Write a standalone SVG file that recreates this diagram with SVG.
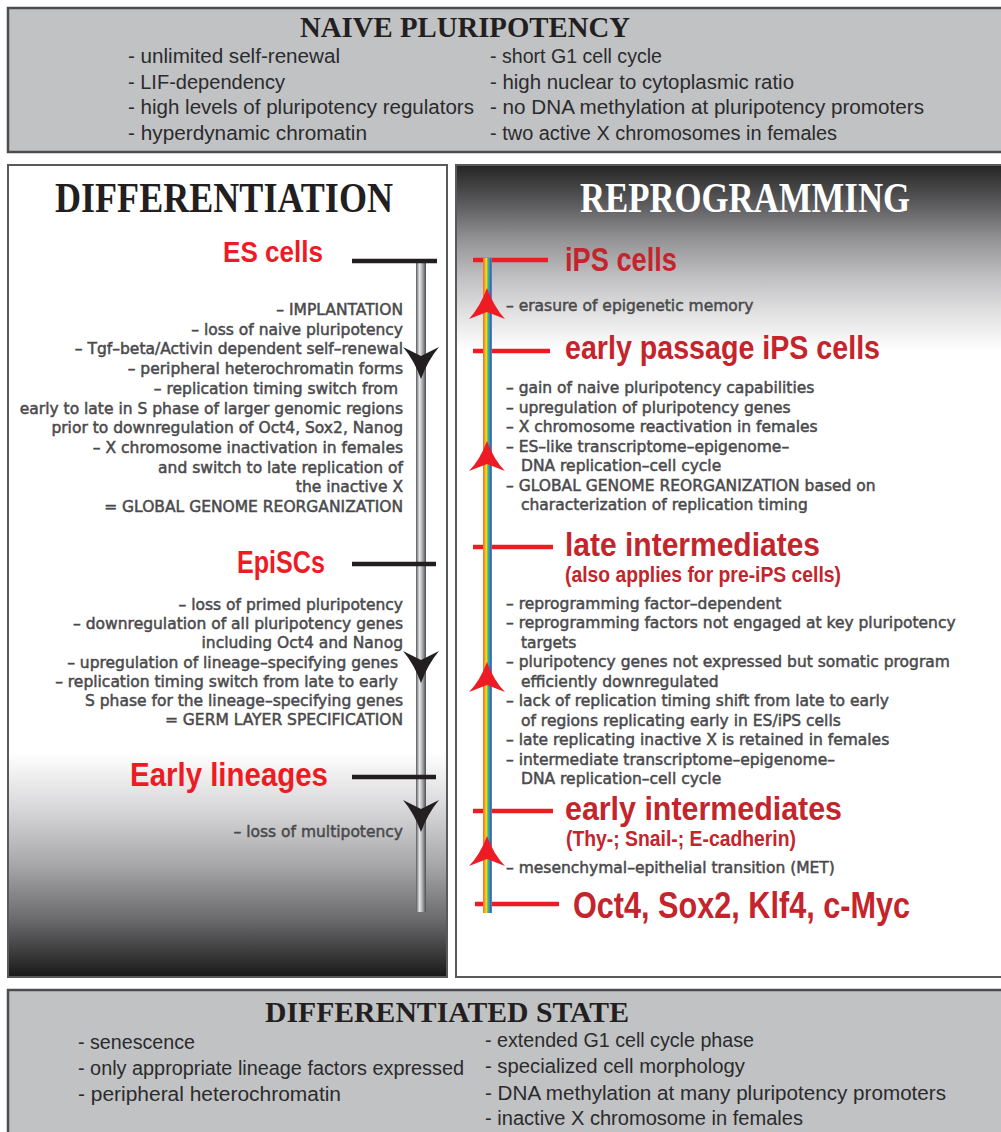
<svg xmlns="http://www.w3.org/2000/svg" width="1001" height="1132" viewBox="0 0 1001 1132">
<defs>
<linearGradient id="gLeft" x1="0" y1="0" x2="0" y2="1">
<stop offset="0" stop-color="#ffffff"/><stop offset="0.25" stop-color="#d8d8da"/><stop offset="0.5" stop-color="#a8a8ab"/><stop offset="0.75" stop-color="#6a6a6d"/><stop offset="1" stop-color="#1a1a1a"/>
</linearGradient>
<linearGradient id="gRight" x1="0" y1="0" x2="0" y2="1">
<stop offset="0" stop-color="#262626"/><stop offset="0.2" stop-color="#5a5a5c"/><stop offset="0.4" stop-color="#949496"/><stop offset="0.6" stop-color="#c0c0c2"/><stop offset="0.8" stop-color="#e2e2e3"/><stop offset="1" stop-color="#ffffff"/>
</linearGradient>
<linearGradient id="gBar" x1="0" y1="0" x2="1" y2="0">
<stop offset="0" stop-color="#58595b"/><stop offset="0.35" stop-color="#e6e7e8"/><stop offset="0.65" stop-color="#a7a9ac"/><stop offset="1" stop-color="#4d4d4f"/>
</linearGradient>
<linearGradient id="gRainbow" x1="0" y1="0" x2="1" y2="0">
<stop offset="0" stop-color="#f26a3a"/><stop offset="0.2" stop-color="#f7a21b"/><stop offset="0.38" stop-color="#f4e01c"/><stop offset="0.55" stop-color="#5cb848"/><stop offset="0.72" stop-color="#1e9ad6"/><stop offset="0.88" stop-color="#2e5fb0"/><stop offset="1" stop-color="#b27bc0"/>
</linearGradient>
</defs>
<style>
.box{fill:#c1c2c4;stroke:#4d4d4f;stroke-width:2.5}
.panel{stroke:#58595b;stroke-width:2}
.stencil{font-family:"Liberation Serif","DejaVu Serif",serif;font-weight:bold}
.cond{font-family:"Liberation Sans",Arial,sans-serif;font-size:20px;fill:#2b2b2d}
.body{font-family:"DejaVu Sans","Liberation Sans",sans-serif;font-size:15.5px;fill:#4a4a4c;stroke:#4a4a4c;stroke-width:0.5}
.lred{font-family:"Liberation Sans",Arial,sans-serif;font-weight:bold;fill:#ed1c24}
.rred{font-family:"Liberation Sans",Arial,sans-serif;font-weight:bold;fill:#c4242b}
.blk{stroke:#231f20;stroke-width:4.5;fill:none}
.red{stroke:#ed1c24;stroke-width:4.5;fill:none}
.bhead{fill:#231f20}
.rhead{fill:#ed1c24}
</style>

<g id="naive-pluripotency">
<rect class="box" x="8" y="8" width="1000" height="144"/>
<text class="stencil" x="300" y="37" font-size="30" textLength="330" lengthAdjust="spacingAndGlyphs" fill="#231f20">NAIVE PLURIPOTENCY</text>
<text class="cond" x="128" y="63" textLength="212" lengthAdjust="spacingAndGlyphs">- unlimited self-renewal</text>
<text class="cond" x="128" y="89" textLength="157" lengthAdjust="spacingAndGlyphs">- LIF-dependency</text>
<text class="cond" x="128" y="114" textLength="346" lengthAdjust="spacingAndGlyphs">- high levels of pluripotency regulators</text>
<text class="cond" x="128" y="140" textLength="239" lengthAdjust="spacingAndGlyphs">- hyperdynamic chromatin</text>
<text class="cond" x="490" y="63" textLength="172" lengthAdjust="spacingAndGlyphs">- short G1 cell cycle</text>
<text class="cond" x="490" y="89" textLength="304" lengthAdjust="spacingAndGlyphs">- high nuclear to cytoplasmic ratio</text>
<text class="cond" x="490" y="114" textLength="434" lengthAdjust="spacingAndGlyphs">- no DNA methylation at pluripotency promoters</text>
<text class="cond" x="490" y="140" textLength="347" lengthAdjust="spacingAndGlyphs">- two active X chromosomes in females</text>
</g>

<g id="differentiation-panel">
<rect class="panel" x="8" y="165" width="439" height="812" fill="#ffffff"/>
<rect x="9" y="752" width="437" height="224" fill="url(#gLeft)"/>
<text class="stencil" x="55" y="212" font-size="42" textLength="338" lengthAdjust="spacingAndGlyphs" fill="#231f20">DIFFERENTIATION</text>
</g>

<g id="reprogramming-panel">
<rect class="panel" x="456" y="165" width="550" height="812" fill="#ffffff"/>
<rect x="457" y="166" width="548" height="185" fill="url(#gRight)"/>
<text class="stencil" x="580" y="212" font-size="42" textLength="330" lengthAdjust="spacingAndGlyphs" fill="#ffffff">REPROGRAMMING</text>
</g>

<g id="connectors">
<rect x="416" y="262" width="10" height="650" fill="url(#gBar)"/>
<line class="blk" x1="352" y1="261" x2="437" y2="261"/>
<line class="blk" x1="352" y1="564" x2="436" y2="564"/>
<line class="blk" x1="352" y1="777" x2="436" y2="777"/>
<path class="bhead" d="M421,379 Q414,360 403,347 L421,356 L439,347 Q428,360 421,379 Z"/>
<path class="bhead" d="M421,683 Q414,664 403,651 L421,660 L439,651 Q428,664 421,683 Z"/>
<path class="bhead" d="M421,832 Q414,813 403,800 L421,809 L439,800 Q428,813 421,832 Z"/>
<line class="red" x1="473" y1="260" x2="548" y2="260"/>
<line class="red" x1="473" y1="351" x2="550" y2="351"/>
<line class="red" x1="473" y1="547" x2="553" y2="547"/>
<line class="red" x1="473" y1="811" x2="553" y2="811"/>
<line class="red" x1="475" y1="904" x2="559" y2="904"/>
<rect x="483" y="258" width="9" height="655" fill="url(#gRainbow)"/>
<path class="rhead" d="M487,288 Q494,307 505,319 L487,312 L469,319 Q480,307 487,288 Z"/>
<path class="rhead" d="M487,441 Q494,460 505,471 L487,464 L469,471 Q480,460 487,441 Z"/>
<path class="rhead" d="M487,662 Q494,681 505,692 L487,685 L469,692 Q480,681 487,662 Z"/>
<path class="rhead" d="M487,836 Q494,855 505,866 L487,859 L469,866 Q480,855 487,836 Z"/>
</g>

<g id="es-cells">
<text class="lred" x="223" y="262" font-size="30" textLength="100" lengthAdjust="spacingAndGlyphs">ES cells</text>
</g>
<g id="es-to-episc-notes" text-anchor="end">
<text class="body" x="403" y="315">– IMPLANTATION</text>
<text class="body" x="403" y="334.7">– loss of naive pluripotency</text>
<text class="body" x="403" y="354.4">– Tgf–beta/Activin dependent self–renewal</text>
<text class="body" x="403" y="374.1">– peripheral heterochromatin forms</text>
<text class="body" x="398" y="393.8">– replication timing switch from</text>
<text class="body" x="403" y="413.5">early to late in S phase of larger genomic regions</text>
<text class="body" x="403" y="433.2">prior to downregulation of Oct4, Sox2, Nanog</text>
<text class="body" x="403" y="452.9">– X chromosome inactivation in females</text>
<text class="body" x="403" y="472.6">and switch to late replication of</text>
<text class="body" x="403" y="492.3">the inactive X</text>
<text class="body" x="403" y="512">= GLOBAL GENOME REORGANIZATION</text>
</g>
<g id="episcs">
<text class="lred" x="237" y="573" font-size="31" textLength="88" lengthAdjust="spacingAndGlyphs">EpiSCs</text>
</g>
<g id="episc-to-lineage-notes" text-anchor="end">
<text class="body" x="403" y="610">– loss of primed pluripotency</text>
<text class="body" x="403" y="629.2">– downregulation of all pluripotency genes</text>
<text class="body" x="403" y="648.3">including Oct4 and Nanog</text>
<text class="body" x="398" y="667.5">– upregulation of lineage–specifying genes</text>
<text class="body" x="398" y="686.7">– replication timing switch from late to early</text>
<text class="body" x="403" y="705.8">S phase for the lineage–specifying genes</text>
<text class="body" x="403" y="725">= GERM LAYER SPECIFICATION</text>
</g>
<g id="early-lineages">
<text class="lred" x="130" y="786" font-size="33" textLength="198" lengthAdjust="spacingAndGlyphs">Early lineages</text>
</g>
<g id="lineage-notes" text-anchor="end">
<text class="body" x="403" y="837">– loss of multipotency</text>
</g>

<g id="ips-cells">
<text class="rred" x="565" y="271" font-size="34" textLength="112" lengthAdjust="spacingAndGlyphs">iPS cells</text>
</g>
<g id="ips-notes">
<text class="body" x="506" y="311">– erasure of epigenetic memory</text>
</g>
<g id="early-passage-ips">
<text class="rred" x="565" y="359" font-size="34" textLength="315" lengthAdjust="spacingAndGlyphs">early passage iPS cells</text>
</g>
<g id="early-passage-notes">
<text class="body" x="506" y="393">– gain of naive pluripotency capabilities</text>
<text class="body" x="506" y="412.5">– upregulation of pluripotency genes</text>
<text class="body" x="506" y="432">– X chromosome reactivation in females</text>
<text class="body" x="506" y="451.5">– ES–like transcriptome–epigenome–</text>
<text class="body" x="521" y="471">DNA replication–cell cycle</text>
<text class="body" x="506" y="490.5">– GLOBAL GENOME REORGANIZATION based on</text>
<text class="body" x="521" y="510">characterization of replication timing</text>
</g>
<g id="late-intermediates">
<text class="rred" x="565" y="556" font-size="34" textLength="255" lengthAdjust="spacingAndGlyphs">late intermediates</text>
<text class="rred" x="565" y="582" font-size="22" textLength="276" lengthAdjust="spacingAndGlyphs">(also applies for pre-iPS cells)</text>
</g>
<g id="late-intermediates-notes">
<text class="body" x="506" y="608.5">– reprogramming factor–dependent</text>
<text class="body" x="506" y="628">– reprogramming factors not engaged at key pluripotency</text>
<text class="body" x="521" y="647.5">targets</text>
<text class="body" x="506" y="667">– pluripotency genes not expressed but somatic program</text>
<text class="body" x="521" y="686.5">efficiently downregulated</text>
<text class="body" x="506" y="706">– lack of replication timing shift from late to early</text>
<text class="body" x="521" y="725.5">of regions replicating early in ES/iPS cells</text>
<text class="body" x="506" y="745">– late replicating inactive X is retained in females</text>
<text class="body" x="506" y="764.5">– intermediate transcriptome–epigenome–</text>
<text class="body" x="521" y="784">DNA replication–cell cycle</text>
</g>
<g id="early-intermediates">
<text class="rred" x="565" y="820" font-size="34" textLength="277" lengthAdjust="spacingAndGlyphs">early intermediates</text>
<text class="rred" x="566" y="846" font-size="22" textLength="230" lengthAdjust="spacingAndGlyphs">(Thy-; Snail-; E-cadherin)</text>
</g>
<g id="early-intermediates-notes">
<text class="body" x="506" y="873">– mesenchymal–epithelial transition (MET)</text>
</g>
<g id="oct4-sox2-klf4-cmyc">
<text class="rred" x="573" y="918" font-size="36" textLength="337" lengthAdjust="spacingAndGlyphs">Oct4, Sox2, Klf4, c-Myc</text>
</g>

<g id="differentiated-state">
<rect class="box" x="8" y="990" width="1000" height="150"/>
<text class="stencil" x="265" y="1022" font-size="30" textLength="364" lengthAdjust="spacingAndGlyphs" fill="#231f20">DIFFERENTIATED STATE</text>
<text class="cond" x="78" y="1049" textLength="117" lengthAdjust="spacingAndGlyphs">- senescence</text>
<text class="cond" x="78" y="1075" textLength="386" lengthAdjust="spacingAndGlyphs">- only appropriate lineage factors expressed</text>
<text class="cond" x="78" y="1101" textLength="263" lengthAdjust="spacingAndGlyphs">- peripheral heterochromatin</text>
<text class="cond" x="485" y="1047" textLength="269" lengthAdjust="spacingAndGlyphs">- extended G1 cell cycle phase</text>
<text class="cond" x="485" y="1073" textLength="260" lengthAdjust="spacingAndGlyphs">- specialized cell morphology</text>
<text class="cond" x="485" y="1100" textLength="461" lengthAdjust="spacingAndGlyphs">- DNA methylation at many pluripotency promoters</text>
<text class="cond" x="485" y="1125" textLength="318" lengthAdjust="spacingAndGlyphs">- inactive X chromosome in females</text>
</g>
</svg>
